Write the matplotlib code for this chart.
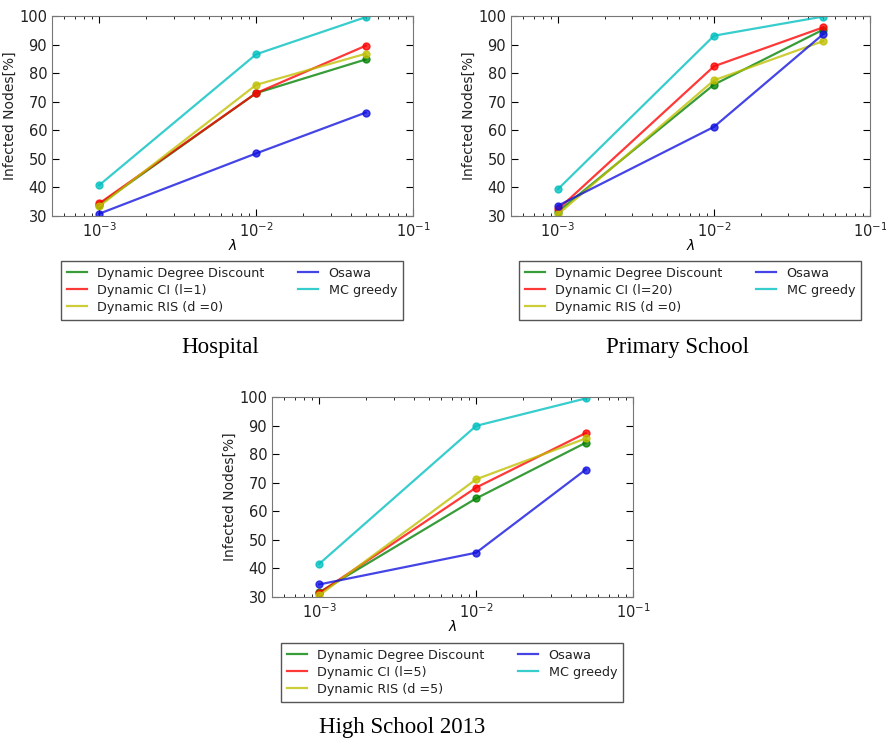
import matplotlib
matplotlib.use("Agg")
import matplotlib.pyplot as plt

# lambda values (x axis, log scale)
lam = [0.001, 0.01, 0.05]

series_names = ["Dynamic Degree Discount", "Dynamic CI", "Dynamic RIS", "Osawa", "MC greedy"]
series_colors = ["#008000", "#ff0000", "#bfbf00", "#1010e0", "#00bfbf"]

# Hospital
hosp_ddd = [34.0, 73.0, 84.8]
hosp_ci = [34.4, 73.0, 89.6]
hosp_ris = [33.4, 75.9, 86.8]
hosp_osawa = [30.8, 51.9, 66.2]
hosp_mc = [40.8, 86.6, 99.6]
hosp_labels = ["Dynamic Degree Discount", "Dynamic CI (l=1)", "Dynamic RIS (d =0)", "Osawa", "MC greedy"]

# Primary School
prim_ddd = [31.5, 76.0, 95.2]
prim_ci = [32.3, 82.4, 96.0]
prim_ris = [30.6, 77.5, 91.2]
prim_osawa = [33.6, 61.2, 93.6]
prim_mc = [39.4, 93.1, 99.8]
prim_labels = ["Dynamic Degree Discount", "Dynamic CI (l=20)", "Dynamic RIS (d =0)", "Osawa", "MC greedy"]

# High School 2013
high_ddd = [31.6, 64.5, 84.0]
high_ci = [31.4, 68.3, 87.4]
high_ris = [30.6, 71.2, 85.5]
high_osawa = [34.4, 45.5, 74.6]
high_mc = [41.6, 89.9, 99.5]
high_labels = ["Dynamic Degree Discount", "Dynamic CI (l=5)", "Dynamic RIS (d =5)", "Osawa", "MC greedy"]

W, H = 886, 745
fig = plt.figure(figsize=(W / 100, H / 100), dpi=100)


def panel(rect, data, labels, leg_xy, title, title_xy):
    ax = fig.add_axes(rect)
    for vals, col, lab in zip(data, series_colors, labels):
        ax.plot(lam, vals, "-o", color=col, lw=1.6, ms=5, mec=col, mfc=col, alpha=0.78)
    ax.set_xscale("log")
    ax.set_xlim(5e-4, 0.1)
    ax.set_ylim(30, 100)
    ax.set_yticks(range(30, 101, 10))
    ax.tick_params(which="both", direction="in", top=True, right=True, labelsize=10.5,
                   labelcolor="#222222")
    ax.tick_params(which="major", length=5)
    ax.tick_params(which="minor", length=2.5)
    for s in ax.spines.values():
        s.set_color("#777777")
    ax.set_xlabel(r"$\lambda$", fontsize=10, labelpad=-1)
    ax.set_ylabel("Infected Nodes[%]", fontsize=10, color="#222222", labelpad=2)
    # legend shows plain lines
    proxies = [plt.Line2D([], [], color=c, lw=1.6, alpha=0.78) for c in series_colors]
    leg = ax.legend(proxies, labels, ncol=2, fontsize=9.2, loc="upper center",
                    bbox_to_anchor=leg_xy, bbox_transform=fig.transFigure,
                    borderaxespad=0, fancybox=False, framealpha=1, handlelength=1.6,
                    columnspacing=2.6, borderpad=0.45, labelspacing=0.32)
    leg.get_frame().set_edgecolor("#555555")
    for t in leg.get_texts():
        t.set_color("#222222")
    fig.text(title_xy[0], title_xy[1], title, ha="center", va="center",
             family="Liberation Serif", fontsize=16.5)
    return ax


panel([52 / W, 1 - 216 / H, 361 / W, 200 / H],
      [hosp_ddd, hosp_ci, hosp_ris, hosp_osawa, hosp_mc], hosp_labels,
      (232 / W, 1 - 261 / H), "Hospital", (220 / W, 1 - 348 / H))
panel([511 / W, 1 - 216 / H, 359 / W, 200 / H],
      [prim_ddd, prim_ci, prim_ris, prim_osawa, prim_mc], prim_labels,
      (690 / W, 1 - 261 / H), "Primary School", (677 / W, 1 - 348 / H))
panel([272 / W, 1 - 597 / H, 361 / W, 200 / H],
      [high_ddd, high_ci, high_ris, high_osawa, high_mc], high_labels,
      (452 / W, 1 - 643 / H), "High School 2013", (402 / W, 1 - 728 / H))

fig.savefig("out.png", dpi=100)
